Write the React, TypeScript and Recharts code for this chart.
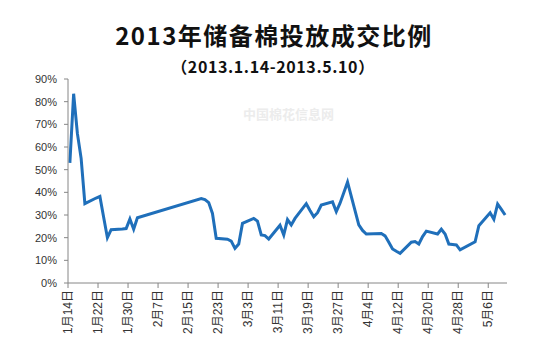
import { Line, LineChart, XAxis, YAxis } from "recharts";

// 2013 reserve cotton auction: deal ratio (%) per trading day
const dates = [
  "2013-01-14", "2013-01-15", "2013-01-16", "2013-01-17", "2013-01-18",
  "2013-01-21", "2013-01-22", "2013-01-23", "2013-01-24", "2013-01-25",
  "2013-01-28", "2013-01-29", "2013-01-30", "2013-01-31", "2013-02-01",
  "2013-02-18", "2013-02-19", "2013-02-20", "2013-02-21", "2013-02-22",
  "2013-02-25", "2013-02-26", "2013-02-27", "2013-02-28", "2013-03-01",
  "2013-03-04", "2013-03-05", "2013-03-06", "2013-03-07", "2013-03-08",
  "2013-03-11", "2013-03-12", "2013-03-13", "2013-03-14", "2013-03-15",
  "2013-03-18", "2013-03-19", "2013-03-20", "2013-03-21", "2013-03-22",
  "2013-03-25", "2013-03-26", "2013-03-27", "2013-03-28", "2013-03-29",
  "2013-04-01", "2013-04-02", "2013-04-03", "2013-04-07", "2013-04-08",
  "2013-04-09", "2013-04-10", "2013-04-11", "2013-04-12", "2013-04-15",
  "2013-04-16", "2013-04-17", "2013-04-18", "2013-04-19", "2013-04-22",
  "2013-04-23", "2013-04-24", "2013-04-25", "2013-04-26", "2013-04-27",
  "2013-04-28", "2013-05-02", "2013-05-03", "2013-05-06", "2013-05-07",
  "2013-05-08", "2013-05-09", "2013-05-10",
];

const ratios = [
  53, 83.5, 66, 55, 35,
  37.5, 38.2, 29, 20, 23.5,
  23.8, 24, 28.2, 23.7, 28.8,
  37.3, 36.8, 35.5, 30.7, 19.7,
  19.3, 18.5, 15.3, 17.2, 26.3,
  28.5, 27.3, 21.2, 20.9, 19.4,
  25.5, 21.2, 28, 25.6, 28.5,
  35, 32, 29.2, 31, 34.4,
  35.8, 31.5, 35.2, 39.8, 44.5,
  25.6, 23.2, 21.6, 21.8, 20.8,
  18, 15, 14, 13.1, 18,
  18.3, 17.2, 20.5, 22.9, 21.6,
  23.7, 21.6, 17.2, 17, 16.8,
  14.6, 18.2, 25.3, 31, 28.1,
  34.8, 32.5, 30,
];

const tickLabels = [
  "1月14日", "1月22日", "1月30日", "2月7日", "2月15日",
  "2月23日", "3月3日", "3月11日", "3月19日", "3月27日",
  "4月4日", "4月12日", "4月20日", "4月28日", "5月6日",
];

const yTicks = [0, 10, 20, 30, 40, 50, 60, 70, 80, 90];

const DAY = 86400000;
const start = Date.UTC(2013, 0, 14);
const dayOf = (y: number, m: number, d: number) =>
  Math.round((Date.UTC(y, m - 1, d) - start) / DAY);

const data = dates.map((s, i) => {
  const [y, m, d] = s.split("-").map(Number);
  return { day: dayOf(y, m, d), ratio: ratios[i] };
});

// ticks sit on day boundaries (Excel date axis), points in the middle of each day
const tickMap: Record<string, string> = {};
const xTicks = tickLabels.map((t) => {
  const [, m, d] = t.match(/(\d+)月(\d+)日/) as RegExpMatchArray;
  const pos = dayOf(2013, Number(m), Number(d)) - 0.5;
  tickMap[String(pos)] = t;
  return pos;
});

const FONT = "'Liberation Sans', 'Noto Sans CJK SC', sans-serif";

const DateTick = (props: any) => {
  const { x, y, payload } = props;
  return (
    <text
      x={x}
      y={y}
      transform={`rotate(-90, ${x}, ${y})`}
      textAnchor="end"
      dy="0.35em"
      fontSize={12}
      fill="#333"
      fontFamily={FONT}
    >
      {tickMap[String(payload.value)]}
    </text>
  );
};

export default function App() {
  return (
    <div
      style={{
        position: "absolute",
        left: 0,
        top: 0,
        width: 540,
        height: 353,
        background: "#fff",
        fontFamily: FONT,
      }}
    >
      <div
        style={{
          position: "absolute",
          left: 243,
          top: 104,
          fontSize: 13,
          fontWeight: "bold",
          color: "#ececec",
          fontFamily: "'Noto Sans CJK SC', sans-serif",
        }}
      >
        中国棉花信息网
      </div>
      <div
        style={{
          position: "absolute",
          left: 0,
          width: 548,
          top: 21,
          textAlign: "center",
          fontSize: 24,
          fontWeight: "bold",
          letterSpacing: 1.5,
          color: "#111",
          fontFamily: "'Noto Sans CJK SC', sans-serif",
          lineHeight: "28px",
        }}
      >
        2013年储备棉投放成交比例
      </div>
      <div
        style={{
          position: "absolute",
          left: 0,
          width: 546,
          top: 57,
          textAlign: "center",
          fontSize: 16,
          fontWeight: "bold",
          letterSpacing: 0.6,
          color: "#111",
          fontFamily: "'Noto Sans CJK SC', sans-serif",
          lineHeight: "18px",
        }}
      >
        （2013.1.14-2013.5.10）
      </div>
      <div style={{ position: "absolute", left: 0, top: 0 }}>
        <LineChart
          width={540}
          height={353}
          data={data}
          margin={{ top: 79, right: 33, bottom: 0, left: 0 }}
        >
          <XAxis
            dataKey="day"
            type="number"
            domain={[-0.5, 116.5]}
            ticks={xTicks}
            interval={0}
            height={70}
            tick={<DateTick />}
            tickSize={5}
            tickMargin={2}
            stroke="#868686"
            allowDataOverflow
          />
          <YAxis
            type="number"
            domain={[0, 90]}
            ticks={yTicks}
            interval={0}
            width={68}
            tickFormatter={(v: number) => `${v}%`}
            tick={{ fontSize: 11, fill: "#333", fontFamily: FONT }}
            tickSize={4}
            tickMargin={7}
            stroke="#868686"
          />
          <Line
            dataKey="ratio"
            type="linear"
            stroke="#1F6FBA"
            strokeWidth={3}
            dot={false}
            isAnimationActive={false}
          />
        </LineChart>
      </div>
    </div>
  );
}
